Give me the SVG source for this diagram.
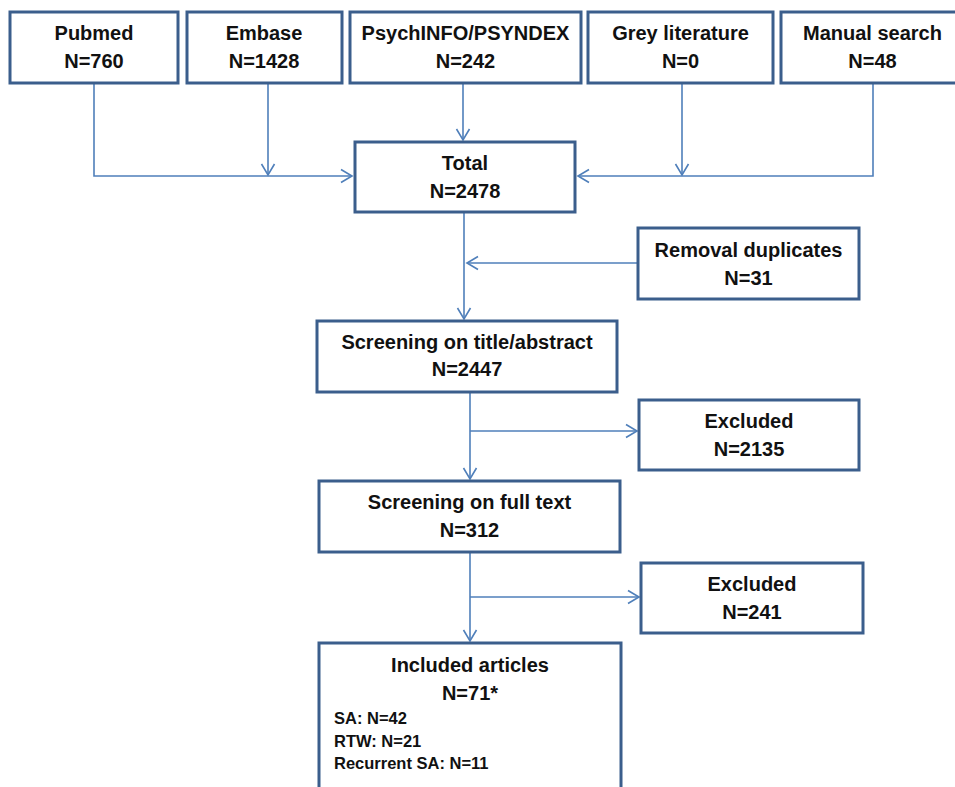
<svg xmlns="http://www.w3.org/2000/svg" width="955" height="787" viewBox="0 0 955 787">
<style>
.box{fill:#fff;stroke:#3B5E8C;stroke-width:3}
.t{font-family:"Liberation Sans",Arial,sans-serif;font-weight:bold;font-size:20px;fill:#111;text-anchor:middle}
.s{font-family:"Liberation Sans",Arial,sans-serif;font-weight:bold;font-size:16.5px;fill:#111}
.c{fill:none;stroke:#4F7FBA;stroke-width:1.6;marker-end:url(#ah)}
</style>
<defs>
<marker id="ah" markerUnits="userSpaceOnUse" viewBox="-13 -8 15 16" markerWidth="15" markerHeight="16" refX="0" refY="0" orient="auto">
<path d="M-11,-6.5 L0,0 L-11,6.5" fill="none" stroke="#4F7FBA" stroke-width="1.6"/>
</marker>
</defs>
<rect width="955" height="787" fill="#fff"/>
<g id="connectors">
<path class="c" d="M94,83 V176 H352"/>
<path class="c" d="M268,83 V175"/>
<path class="c" d="M463,83 V140"/>
<path class="c" d="M682,83 V175"/>
<path class="c" d="M873,83 V176 H578"/>
<path class="c" d="M464,212 V319"/>
<path class="c" d="M638,263 H467"/>
<path class="c" d="M470,392 V479"/>
<path class="c" d="M470,431 H637"/>
<path class="c" d="M470,552 V641"/>
<path class="c" d="M470,597 H639"/>
</g>
<g id="pubmed"><rect class="box" x="10" y="12" width="168" height="71"/><text class="t" x="94" y="40">Pubmed</text><text class="t" x="94" y="68">N=760</text></g>
<g id="embase"><rect class="box" x="187" y="12" width="155" height="71"/><text class="t" x="264" y="40">Embase</text><text class="t" x="264" y="68">N=1428</text></g>
<g id="psychinfo"><rect class="box" x="350" y="12" width="231" height="71"/><text class="t" x="465.5" y="40" font-size="19.5">PsychINFO/PSYNDEX</text><text class="t" x="465.5" y="68">N=242</text></g>
<g id="grey"><rect class="box" x="588" y="12" width="185" height="71"/><text class="t" x="680.5" y="40">Grey literature</text><text class="t" x="680.5" y="68">N=0</text></g>
<g id="manual"><rect class="box" x="781" y="12" width="190" height="71"/><text class="t" x="872.5" y="40">Manual search</text><text class="t" x="872.5" y="68">N=48</text></g>
<g id="total"><rect class="box" x="355" y="142" width="220" height="70"/><text class="t" x="465" y="170">Total</text><text class="t" x="465" y="198">N=2478</text></g>
<g id="removal"><rect class="box" x="638" y="228" width="221" height="71"/><text class="t" x="748.5" y="257">Removal duplicates</text><text class="t" x="748.5" y="285">N=31</text></g>
<g id="screen1"><rect class="box" x="317" y="321" width="300" height="71"/><text class="t" x="467" y="349">Screening on title/abstract</text><text class="t" x="467" y="376">N=2447</text></g>
<g id="excluded1"><rect class="box" x="639" y="400" width="220" height="70"/><text class="t" x="749" y="428">Excluded</text><text class="t" x="749" y="456">N=2135</text></g>
<g id="screen2"><rect class="box" x="319" y="481" width="301" height="71"/><text class="t" x="469.5" y="509">Screening on full text</text><text class="t" x="469.5" y="537">N=312</text></g>
<g id="excluded2"><rect class="box" x="641" y="563" width="222" height="70"/><text class="t" x="752" y="591">Excluded</text><text class="t" x="752" y="619">N=241</text></g>
<g id="included"><rect class="box" x="319" y="643" width="302" height="160"/><text class="t" x="470" y="672">Included articles</text><text class="t" x="470" y="700">N=71*</text><text class="s" x="334" y="724">SA: N=42</text><text class="s" x="334" y="747">RTW: N=21</text><text class="s" x="334" y="769">Recurrent SA: N=11</text></g>
</svg>
